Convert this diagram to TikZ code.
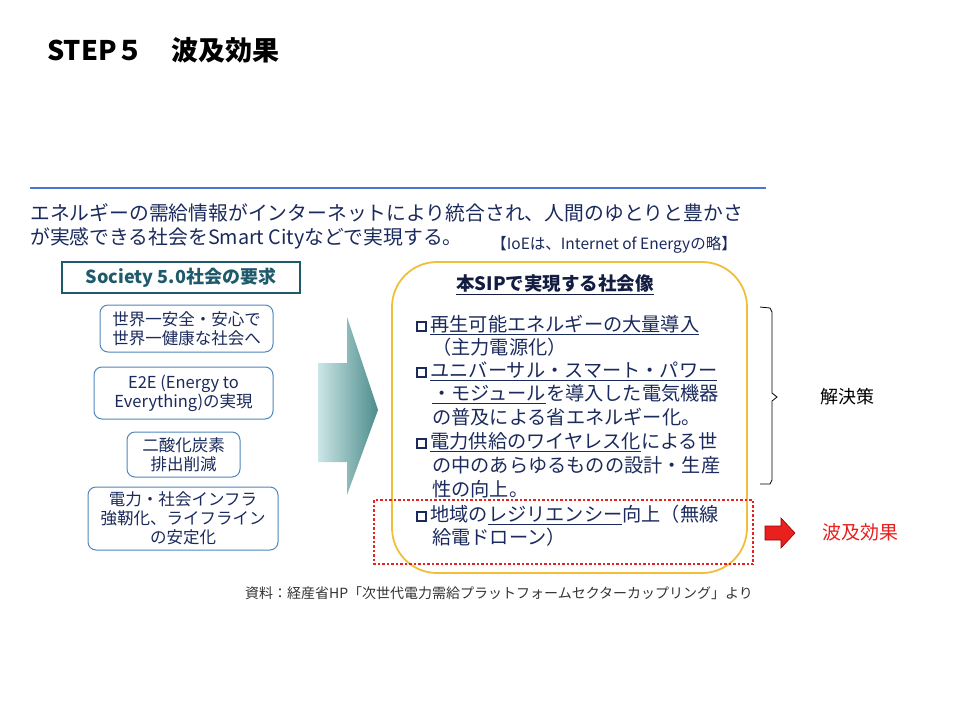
\documentclass[tikz,border=0pt]{standalone}
\usepackage{fontspec}
\setmainfont{Noto Sans CJK JP}
\usetikzlibrary{shadings}
\definecolor{navy}{HTML}{1B2A5C}
\definecolor{tealb}{HTML}{1F5A6B}
\definecolor{bluebd}{HTML}{4F86BE}
\definecolor{gold}{HTML}{F2BE3A}
\definecolor{lineblue}{HTML}{4A78D0}
\definecolor{redc}{HTML}{E8201E}
\newcommand{\bx}{\tikz[baseline=-0.5pt]\draw[navy,line width=2.2pt] (0,0) rectangle (9pt,9pt);\hspace{3pt}}
\begin{document}
\begin{tikzpicture}[x=1pt,y=-1pt,
  txt/.style={anchor=west,inner sep=0,text=navy,font=\fontsize{19.8}{19.8}\selectfont},
  it/.style={anchor=west,inner sep=0,text=navy,font=\fontsize{19.2}{19.2}\selectfont},
  req/.style={draw=bluebd,line width=1pt,rounded corners=8pt,fill=white,align=center,text=navy,font=\fontsize{16.5}{19}\selectfont,inner sep=0}]
\useasboundingbox (0,0) rectangle (960,720);
\node[anchor=west,inner sep=0,font=\fontsize{27}{27}\selectfont\bfseries] (title) at (47,50) {STEP５\hspace{28pt}波及効果};
\draw[lineblue,line width=1.5pt] (30,188) coordinate (l1) -- (766,188) coordinate (l2);
\node[txt] (t1) at (30,213) {エネルギーの需給情報がインターネットにより統合され、人間のゆとりと豊かさ};
\node[txt] (t2) at (30,238) {が実感できる社会をSmart Cityなどで実現する。};
\node[anchor=east,inner sep=0,text=navy,font=\fontsize{15.5}{15.5}\selectfont] (ioe) at (737,245) {【IoEは、Internet of Energyの略】};
\node[draw=tealb,line width=1.5pt,minimum width=238,minimum height=31,inner sep=0,text=tealb,font=\fontsize{18}{18}\selectfont\bfseries] (soc) at (181,277.5) {Society 5.0社会の要求};
\node[req,minimum width=173,minimum height=47] (b1) at (186.5,328.5) {世界一安全・安心で\\世界一健康な社会へ};
\node[req,minimum width=179,minimum height=52] (b2) at (183.5,393) {E2E (Energy to\\Everything)の実現};
\node[req,minimum width=113,minimum height=45] (b3) at (183.5,454.5) {二酸化炭素\\排出削減};
\node[req,minimum width=190,minimum height=63] (b4) at (183,518.5) {電力・社会インフラ\\強靭化、ライフライン\\の安定化};
\shade[left color=teal!20,right color=teal!55!gray!90] (318,363) -- (347,363) -- (347,317) -- (378,410) -- (347,495) -- (347,462) -- (318,462) -- cycle;
\draw[gold,line width=1.8pt,rounded corners=45pt] (392,262) rectangle (747,573);
\node[inner sep=0,text=navy!70!black,font=\fontsize{18.5}{18.5}\selectfont\bfseries] (sip) at (555,285) {\underline{本SIPで実現する社会像}};
\node[it] (i1) at (416,325) {\bx\underline{再生可能エネルギーの大量導入}};
\node[it] (i1b) at (432,347) {（主力電源化）};
\node[it] (i2) at (416,371) {\bx\underline{ユニバーサル・スマート・パワー}};
\node[it] (i2b) at (432,394) {\underline{・モジュール}を導入した電気機器};
\node[it] (i2c) at (432,417) {の普及による省エネルギー化。};
\node[it] (i3) at (416,442) {\bx\underline{電力供給のワイヤレス化}による世};
\node[it] (i3b) at (432,465) {の中のあらゆるものの設計・生産};
\node[it] (i3c) at (432,489) {性の向上。};
\node[it] (i4) at (416,515) {\bx 地域の\underline{レジリエンシー}向上（無線};
\node[it] (i4b) at (432,537) {給電ドローン）};
\draw[redc,line width=2.5pt,dash pattern=on 2.5pt off 2pt] (374,500) rectangle (753,564);
\draw[black,line width=0.8pt] (760,307) -- (770,308) -- (772,312) -- (772,393) -- (777,397) -- (772,401) -- (772,480) -- (770,484) -- (760,484);
\node[anchor=west,inner sep=0,font=\fontsize{18}{18}\selectfont] (kai) at (820,397) {解決策};
\filldraw[fill=redc,draw=red!60!black,line width=0.6pt] (765,526) -- (781,526) -- (781,518) -- (795,533) -- (781,548) -- (781,540) -- (765,540) -- cycle;
\node[anchor=west,inner sep=0,text=redc,font=\fontsize{19}{19}\selectfont] (hak) at (822,532) {波及効果};
\node[inner sep=0,text=black!80,font=\fontsize{14}{14}\selectfont] (src) at (499,593) {資料：経産省HP「次世代電力需給プラットフォームセクターカップリング」より};
\end{tikzpicture}
\end{document}
